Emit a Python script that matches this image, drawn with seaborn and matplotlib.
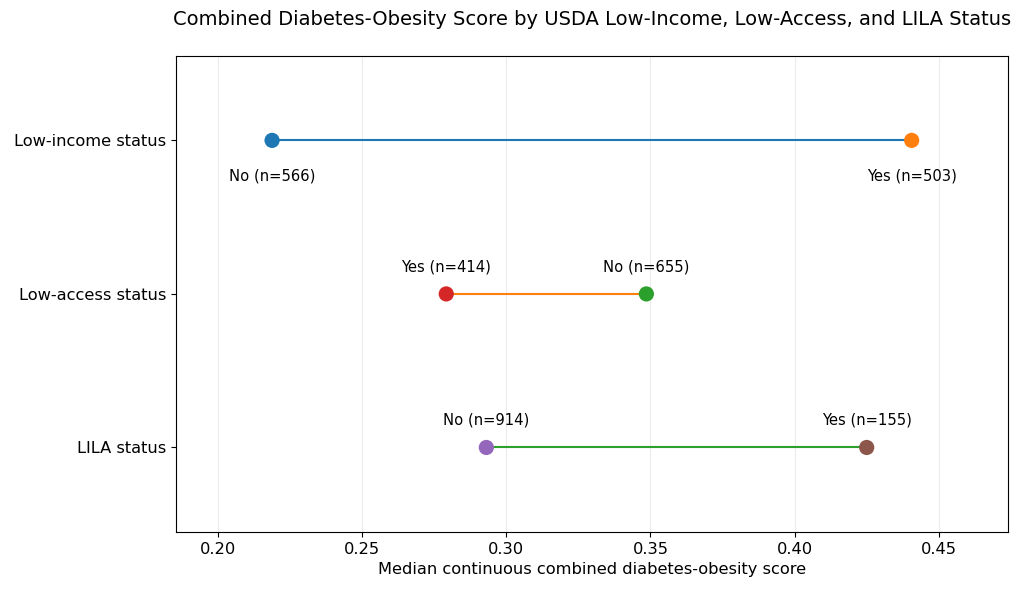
import numpy as np
import pandas as pd
import matplotlib
matplotlib.use("Agg")
import matplotlib.pyplot as plt
import seaborn as sns

# Data
groups = ['Low-income status', 'Low-access status', 'LILA status']
left_labels = ['No (n=566)', 'Yes (n=414)', 'No (n=914)']
left_values = [0.2188, 0.2792, 0.2931]
right_labels = ['Yes (n=503)', 'No (n=655)', 'Yes (n=155)']
right_values = [0.4406, 0.3486, 0.4250]

line_colors = ['#1f77b4', '#ff7f0e', '#2ca02c']
left_colors = ['#1f77b4', '#d62728', '#9467bd']
right_colors = ['#ff7f0e', '#2ca02c', '#8c564b']

sns.set_style("ticks")
plt.rcParams['font.family'] = ['DejaVu Sans']
plt.rcParams['text.color'] = 'black'
plt.rcParams['axes.labelcolor'] = 'black'
plt.rcParams['xtick.color'] = 'black'
plt.rcParams['ytick.color'] = 'black'

fig = plt.figure(figsize=(10.24, 5.95), dpi=100)
ax = fig.add_axes([0.172, 0.106, 0.812, 0.800])

ypos = np.arange(len(groups))
for i in ypos:
    ax.plot([left_values[i], right_values[i]], [i, i], color=line_colors[i], lw=1.5, zorder=1)

pts = pd.DataFrame({
    'score': left_values + right_values,
    'row': list(ypos) + list(ypos),
    'label': left_labels + right_labels,
})
pal = {lab: c for lab, c in zip(left_labels + right_labels, left_colors + right_colors)}
sns.scatterplot(data=pts, x='score', y='row', hue='label', palette=pal, s=120,
                edgecolor='none', legend=False, ax=ax, zorder=3)

for _, r in pts.iterrows():
    if r['row'] == 0:
        ax.annotate(r['label'], (r['score'], r['row']), xytext=(0, -26),
                    textcoords='offset points', ha='center', va='center', fontsize=10.6)
    else:
        ax.annotate(r['label'], (r['score'], r['row']), xytext=(0, 19.5),
                    textcoords='offset points', ha='center', va='center', fontsize=10.6)

allv = left_values + right_values
rng = max(allv) - min(allv)
ax.set_xlim(min(allv) - 0.15 * rng, max(allv) + 0.15 * rng)
ax.set_ylim(2.55, -0.55)
ax.set_yticks(ypos)
ax.set_yticklabels(groups)
ax.set_xticks([0.20, 0.25, 0.30, 0.35, 0.40, 0.45])
ax.set_xticklabels(['0.20', '0.25', '0.30', '0.35', '0.40', '0.45'])
ax.tick_params(labelsize=11.7, color='black')
ax.grid(axis='x', color='#ececec', lw=0.8)
ax.set_axisbelow(True)
ax.set_ylabel('')
ax.set_xlabel('Median continuous combined diabetes-obesity score', fontsize=11.7)
for s in ax.spines.values():
    s.set_color('black')
ax.set_title('Combined Diabetes-Obesity Score by USDA Low-Income, Low-Access, and LILA Status',
             fontsize=14, pad=22)

fig.savefig('out.png', dpi=100)
